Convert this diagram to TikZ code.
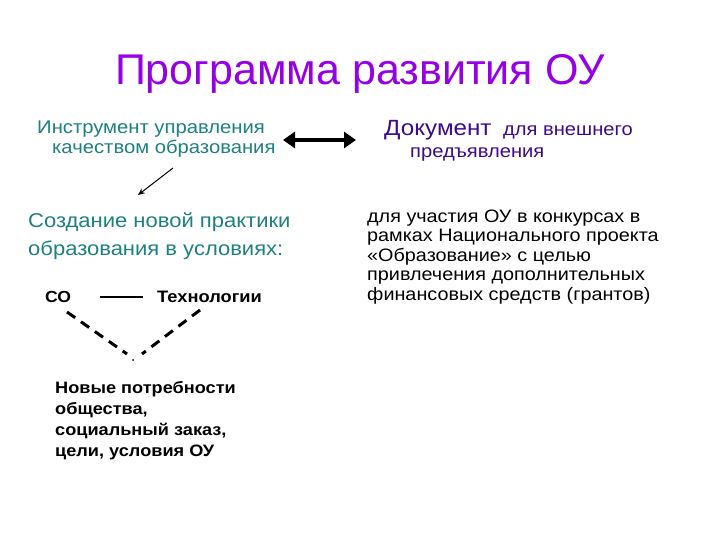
\documentclass[tikz,border=0pt]{standalone}
\usepackage{fontspec}
\setmainfont{Liberation Sans}
\newfontfamily\widefont[FakeStretch=1.1]{Liberation Sans}
\usetikzlibrary{arrows.meta}
\definecolor{titlec}{RGB}{150,0,230}
\definecolor{tealc}{RGB}{30,128,128}
\definecolor{docc}{RGB}{60,10,140}
\tikzset{
  txt/.style={inner sep=0pt, anchor=base west, align=left},
  tealtxt/.style={txt, text=tealc},
  boldtxt/.style={txt, font=\widefont\bfseries\fontsize{16.5}{21}\selectfont},
}
\begin{document}
\begin{tikzpicture}[x=1pt,y=-1pt]
\useasboundingbox (0,0) rectangle (720,540);
\node[inner sep=0pt, anchor=base, text=titlec, font=\fontsize{43}{50}\selectfont] (title) at (360,85) {Программа развития ОУ};
\node[tealtxt, font=\widefont\fontsize{18.4}{20}\selectfont] (instr1) at (37,134) {Инструмент управления};
\node[tealtxt, font=\widefont\fontsize{18.4}{20}\selectfont] (instr2) at (52,154) {качеством образования};
\coordinate (dl) at (283,140);
\coordinate (dr) at (356,140);
\draw[line width=4pt, {Triangle[length=12pt,width=16pt]}-{Triangle[length=12pt,width=16pt]}] (dl) -- (dr);
\node[txt, text=docc, font=\widefont\fontsize{22}{24}\selectfont] (doc) at (384,136) {Документ};
\node[txt, text=docc, font=\widefont\fontsize{18.3}{20}\selectfont] (doc2) at (503,136) {для внешнего};
\node[txt, text=docc, font=\widefont\fontsize{18.3}{20}\selectfont] (doc3) at (410,158) {предъявления};
\coordinate (a1) at (173,168);
\coordinate (a2) at (138,195);
\draw[line width=1pt, -{Stealth[length=7pt,width=6pt]}] (a1) -- (a2);
\node[tealtxt, font=\widefont\fontsize{20}{22}\selectfont] (cr1) at (28,227) {Создание новой практики};
\node[tealtxt, font=\widefont\fontsize{20}{22}\selectfont] (cr2) at (28,255) {образования в условиях:};
\node[txt, font=\widefont\bfseries\fontsize{16}{18}\selectfont] (so) at (45,302) {СО};
\node[txt, font=\widefont\bfseries\fontsize{16.6}{18}\selectfont] (tech) at (157,302) {Технологии};
\coordinate (l1) at (100,297);
\coordinate (l2) at (143,297);
\draw[line width=2pt] (l1) -- (l2);
\coordinate (d1) at (67,312);
\coordinate (d2) at (127,354);
\coordinate (d3) at (200,310);
\coordinate (d4) at (142,354);
\draw[line width=3pt, dash pattern=on 10pt off 7pt] (d1) -- (d2);
\draw[line width=3pt, dash pattern=on 10pt off 7pt] (d3) -- (d4);
\fill (133,360) circle (1pt);
\node[boldtxt] (needs) at (55,456) {Новые потребности\\общества,\\социальный заказ,\\цели, условия ОУ};
\node[txt, font=\widefont\fontsize{18}{19.5}\selectfont] (part) at (367,300) {для участия ОУ в конкурсах в\\рамках Национального проекта\\«Образование» с целью\\привлечения дополнительных\\финансовых средств (грантов)};
\end{tikzpicture}
\end{document}
